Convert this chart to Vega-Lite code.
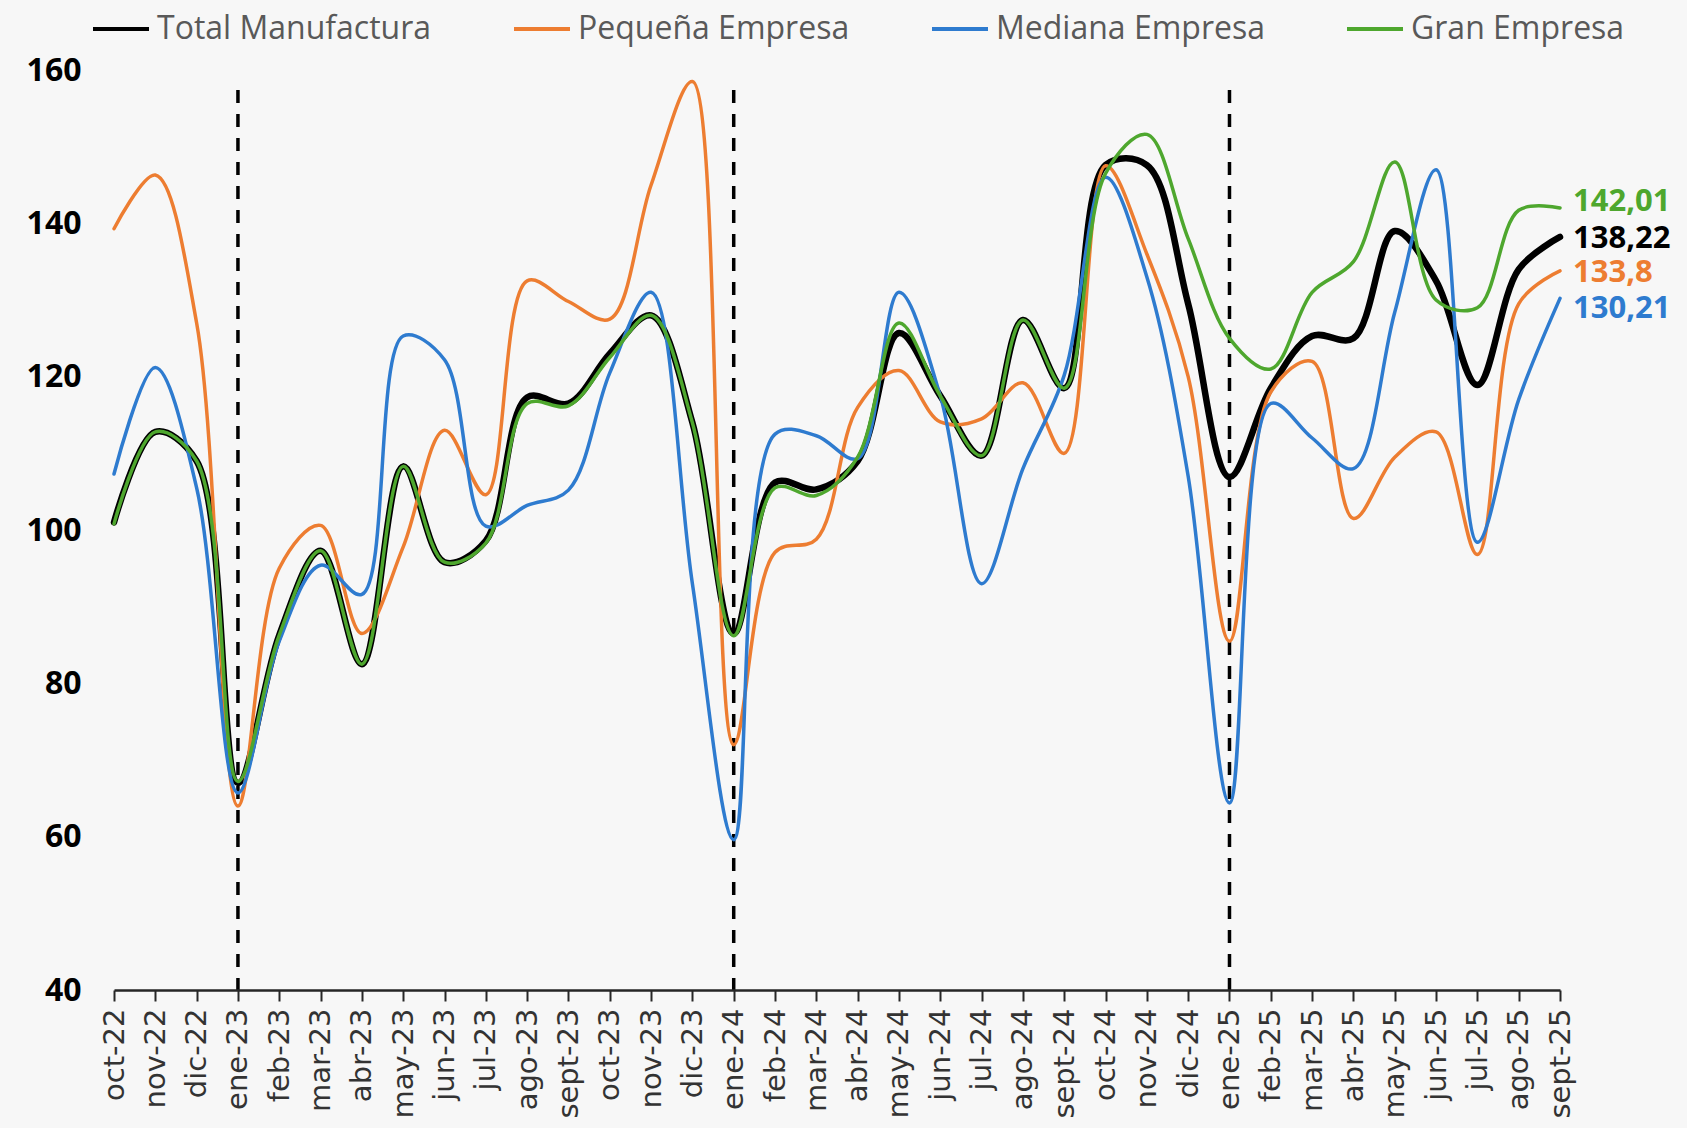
{
  "$schema": "https://vega.github.io/schema/vega-lite/v6.json",
  "autosize": "none",
  "width": 1446,
  "height": 920,
  "padding": {"left": 114, "top": 70, "right": 127, "bottom": 138},
  "background": "#f7f7f7",
  "config": {
    "view": {"stroke": null},
    "locale": {"number": {"decimal": ",", "thousands": ".", "grouping": [3], "currency": ["", " €"]}},
    "font": "Open Sans"
  },
  "datasets": {
    "ipi": [
      {"mes": "oct-22", "Total Manufactura": 101, "Pequeña Empresa": 139.3, "Mediana Empresa": 107.3, "Gran Empresa": 100.8},
      {"mes": "nov-22", "Total Manufactura": 112.8, "Pequeña Empresa": 146.3, "Mediana Empresa": 121.2, "Gran Empresa": 112.8},
      {"mes": "dic-22", "Total Manufactura": 109, "Pequeña Empresa": 127, "Mediana Empresa": 105.5, "Gran Empresa": 109},
      {"mes": "ene-23", "Total Manufactura": 67, "Pequeña Empresa": 64, "Mediana Empresa": 65.7, "Gran Empresa": 67.2},
      {"mes": "feb-23", "Total Manufactura": 86.3, "Pequeña Empresa": 95, "Mediana Empresa": 85.5, "Gran Empresa": 86.3},
      {"mes": "mar-23", "Total Manufactura": 97.3, "Pequeña Empresa": 100.6, "Mediana Empresa": 95.4, "Gran Empresa": 97.3},
      {"mes": "abr-23", "Total Manufactura": 82.5, "Pequeña Empresa": 86.5, "Mediana Empresa": 91.6, "Gran Empresa": 82.5},
      {"mes": "may-23", "Total Manufactura": 108.3, "Pequeña Empresa": 97.8, "Mediana Empresa": 125.3, "Gran Empresa": 108.3},
      {"mes": "jun-23", "Total Manufactura": 95.8, "Pequeña Empresa": 113, "Mediana Empresa": 122.2, "Gran Empresa": 95.8},
      {"mes": "jul-23", "Total Manufactura": 98.6, "Pequeña Empresa": 104.6, "Mediana Empresa": 100.5, "Gran Empresa": 98.3},
      {"mes": "ago-23", "Total Manufactura": 117.3, "Pequeña Empresa": 132.5, "Mediana Empresa": 103.2, "Gran Empresa": 116.5},
      {"mes": "sept-23", "Total Manufactura": 116.5, "Pequeña Empresa": 129.8, "Mediana Empresa": 105.2, "Gran Empresa": 116.2},
      {"mes": "oct-23", "Total Manufactura": 123, "Pequeña Empresa": 127.5, "Mediana Empresa": 120.5, "Gran Empresa": 122.5},
      {"mes": "nov-23", "Total Manufactura": 128, "Pequeña Empresa": 145, "Mediana Empresa": 131, "Gran Empresa": 128},
      {"mes": "dic-23", "Total Manufactura": 114, "Pequeña Empresa": 158.5, "Mediana Empresa": 93, "Gran Empresa": 114},
      {"mes": "ene-24", "Total Manufactura": 86.5, "Pequeña Empresa": 72, "Mediana Empresa": 59.6, "Gran Empresa": 86.2},
      {"mes": "feb-24", "Total Manufactura": 106.2, "Pequeña Empresa": 97.1, "Mediana Empresa": 112.5, "Gran Empresa": 105.5},
      {"mes": "mar-24", "Total Manufactura": 105.3, "Pequeña Empresa": 98.8, "Mediana Empresa": 112.3, "Gran Empresa": 104.5},
      {"mes": "abr-24", "Total Manufactura": 109, "Pequeña Empresa": 116, "Mediana Empresa": 109.3, "Gran Empresa": 109.5},
      {"mes": "may-24", "Total Manufactura": 125.7, "Pequeña Empresa": 120.8, "Mediana Empresa": 131, "Gran Empresa": 127},
      {"mes": "jun-24", "Total Manufactura": 117.5, "Pequeña Empresa": 114.1, "Mediana Empresa": 117.5, "Gran Empresa": 117.5},
      {"mes": "jul-24", "Total Manufactura": 109.7, "Pequeña Empresa": 114.5, "Mediana Empresa": 93, "Gran Empresa": 109.7},
      {"mes": "ago-24", "Total Manufactura": 127.4, "Pequeña Empresa": 119.2, "Mediana Empresa": 108, "Gran Empresa": 127.4},
      {"mes": "sept-24", "Total Manufactura": 118.5, "Pequeña Empresa": 110, "Mediana Empresa": 120.2, "Gran Empresa": 118.5},
      {"mes": "oct-24", "Total Manufactura": 147.6, "Pequeña Empresa": 147.5, "Mediana Empresa": 146, "Gran Empresa": 146.5},
      {"mes": "nov-24", "Total Manufactura": 147.6, "Pequeña Empresa": 136, "Mediana Empresa": 133, "Gran Empresa": 151.6},
      {"mes": "dic-24", "Total Manufactura": 129.5, "Pequeña Empresa": 120, "Mediana Empresa": 107, "Gran Empresa": 138},
      {"mes": "ene-25", "Total Manufactura": 106.9, "Pequeña Empresa": 85.5, "Mediana Empresa": 64.4, "Gran Empresa": 125},
      {"mes": "feb-25", "Total Manufactura": 118.5, "Pequeña Empresa": 118, "Mediana Empresa": 116.5, "Gran Empresa": 121},
      {"mes": "mar-25", "Total Manufactura": 125.3, "Pequeña Empresa": 122, "Mediana Empresa": 112, "Gran Empresa": 131},
      {"mes": "abr-25", "Total Manufactura": 125, "Pequeña Empresa": 101.5, "Mediana Empresa": 108, "Gran Empresa": 135},
      {"mes": "may-25", "Total Manufactura": 139, "Pequeña Empresa": 109.5, "Mediana Empresa": 128.4, "Gran Empresa": 148},
      {"mes": "jun-25", "Total Manufactura": 132.5, "Pequeña Empresa": 112.8, "Mediana Empresa": 147, "Gran Empresa": 130},
      {"mes": "jul-25", "Total Manufactura": 118.9, "Pequeña Empresa": 96.8, "Mediana Empresa": 98.4, "Gran Empresa": 129},
      {"mes": "ago-25", "Total Manufactura": 134, "Pequeña Empresa": 129.5, "Mediana Empresa": 117, "Gran Empresa": 141.7},
      {"mes": "sept-25", "Total Manufactura": 138.22, "Pequeña Empresa": 133.8, "Mediana Empresa": 130.21, "Gran Empresa": 142.01}
    ],
    "cortes": [{"mes": "ene-23"}, {"mes": "ene-24"}, {"mes": "ene-25"}]
  },
  "layer": [
    {
      "data": {"name": "cortes"},
      "mark": {"type": "rule", "color": "#000000", "strokeWidth": 3.5, "strokeDash": [13, 11]},
      "encoding": {
        "x": {
          "field": "mes",
          "type": "ordinal",
          "scale": {
            "type": "point",
            "padding": 0,
            "domain": ["oct-22","nov-22","dic-22","ene-23","feb-23","mar-23","abr-23","may-23","jun-23","jul-23","ago-23","sept-23","oct-23","nov-23","dic-23","ene-24","feb-24","mar-24","abr-24","may-24","jun-24","jul-24","ago-24","sept-24","oct-24","nov-24","dic-24","ene-25","feb-25","mar-25","abr-25","may-25","jun-25","jul-25","ago-25","sept-25"]
          },
          "axis": {
            "title": null,
            "labelAngle": -90,
            "labelAlign": "right",
            "labelBaseline": "middle",
            "labelFont": "DejaVu Sans",
            "labelFontSize": 29,
            "labelColor": "#333333",
            "labelPadding": 7,
            "domainColor": "#262626",
            "domainWidth": 2.5,
            "tickColor": "#262626",
            "tickWidth": 2,
            "tickSize": 11,
            "grid": false,
            "zindex": 1
          }
        },
        "y": {
          "datum": 157.4,
          "type": "quantitative",
          "scale": {"domain": [40, 160], "nice": false, "zero": false},
          "axis": {
            "title": null,
            "values": [40, 60, 80, 100, 120, 140, 160],
            "domain": false,
            "ticks": false,
            "labelFont": "Open Sans",
            "labelFontWeight": "bold",
            "labelFontSize": 32,
            "labelColor": "#000000",
            "labelPadding": 33,
            "gridColor": "#d4d4d4",
            "gridWidth": 2
          }
        },
        "y2": {"datum": 40}
      }
    },
    {
      "data": {"name": "ipi"},
      "transform": [
        {"fold": ["Total Manufactura", "Pequeña Empresa", "Mediana Empresa", "Gran Empresa"], "as": ["serie", "valor"]}
      ],
      "encoding": {
        "x": {"field": "mes", "type": "ordinal"},
        "y": {"field": "valor", "type": "quantitative"},
        "color": {
          "field": "serie",
          "type": "nominal",
          "scale": {
            "domain": ["Total Manufactura", "Pequeña Empresa", "Mediana Empresa", "Gran Empresa"],
            "range": ["#000000", "#ED7D31", "#2E7BCF", "#4EA72E"]
          },
          "legend": {
            "title": null,
            "orient": "none",
            "legendX": -23,
            "legendY": -71,
            "direction": "horizontal",
            "symbolType": "stroke",
            "symbolSize": 3136,
            "symbolStrokeWidth": 4,
            "labelFont": "Open Sans",
            "labelFontSize": 32,
            "labelColor": "#595959",
            "labelOffset": 6,
            "columnPadding": 74,
            "padding": 0,
            "labelLimit": 400
          }
        }
      },
      "layer": [
        {
          "transform": [{"filter": "datum.serie === 'Total Manufactura'"}],
          "mark": {"type": "line", "interpolate": "catmull-rom", "strokeWidth": 6.5, "strokeCap": "round", "strokeJoin": "round"}
        },
        {
          "transform": [{"filter": "datum.serie === 'Pequeña Empresa'"}],
          "mark": {"type": "line", "interpolate": "catmull-rom", "strokeWidth": 3.5, "strokeCap": "round"}
        },
        {
          "transform": [{"filter": "datum.serie === 'Mediana Empresa'"}],
          "mark": {"type": "line", "interpolate": "catmull-rom", "strokeWidth": 3.5, "strokeCap": "round"}
        },
        {
          "transform": [{"filter": "datum.serie === 'Gran Empresa'"}],
          "mark": {"type": "line", "interpolate": "catmull-rom", "strokeWidth": 3.5, "strokeCap": "round"}
        },
        {
          "transform": [{"filter": "datum.mes === 'sept-25' && (datum.serie === 'Total Manufactura' || datum.serie === 'Pequeña Empresa')"}],
          "mark": {"type": "text", "align": "left", "baseline": "middle", "dx": 13, "dy": 2, "font": "Open Sans", "fontWeight": "bold", "fontSize": 31},
          "encoding": {"text": {"field": "valor", "type": "quantitative", "format": ".2~f"}}
        },
        {
          "transform": [{"filter": "datum.mes === 'sept-25' && datum.serie === 'Gran Empresa'"}],
          "mark": {"type": "text", "align": "left", "baseline": "middle", "dx": 13, "dy": -6, "font": "Open Sans", "fontWeight": "bold", "fontSize": 31},
          "encoding": {"text": {"field": "valor", "type": "quantitative", "format": ".2~f"}}
        },
        {
          "transform": [{"filter": "datum.mes === 'sept-25' && datum.serie === 'Mediana Empresa'"}],
          "mark": {"type": "text", "align": "left", "baseline": "middle", "dx": 13, "dy": 11, "font": "Open Sans", "fontWeight": "bold", "fontSize": 31},
          "encoding": {"text": {"field": "valor", "type": "quantitative", "format": ".2~f"}}
        }
      ]
    }
  ]
}
